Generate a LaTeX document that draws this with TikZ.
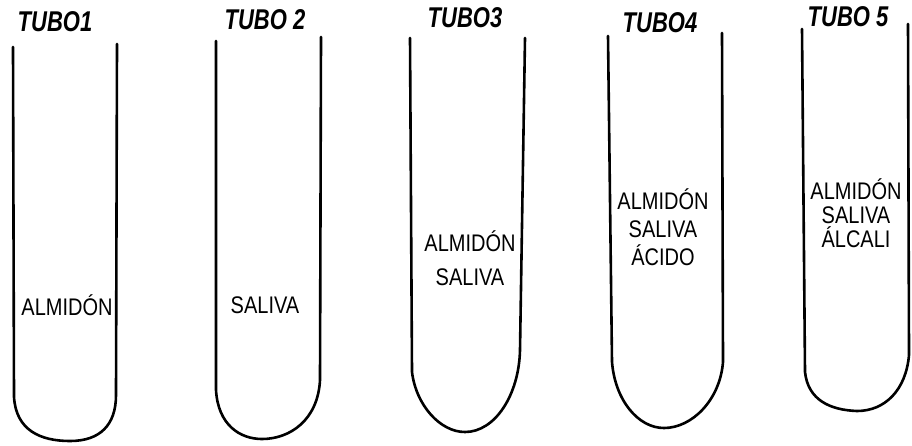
\documentclass[tikz,border=0pt]{standalone}
\usepackage{fontspec}
\setmainfont{Liberation Sans}
\begin{document}
\begin{tikzpicture}[x=1pt,y=-1pt,
  tube/.style={line width=2.6pt, line cap=round, line join=round},
  title/.style={font=\fontsize{22}{24}\selectfont\bfseries\itshape, inner sep=0pt, yscale=1.3, transform shape},
  lab/.style={inner sep=0pt, align=center, yscale=1.2, transform shape}]
\useasboundingbox (0,0) rectangle (912,445);
% tubes
\draw[tube] (13,47) -- (14,397) .. controls (16,430) and (40,441) .. (70,441) .. controls (100,441) and (116,425) .. (116,395) -- (117,44);
\draw[tube] (216,41) -- (216,390) .. controls (218,425) and (240,439) .. (262,439) .. controls (290,439) and (318,420) .. (320,380) -- (321,37);
\draw[tube] (410,38) -- (412,372) .. controls (416,405) and (440,432) .. (465,432) .. controls (495,432) and (519,395) .. (520,350) -- (525,38);
\draw[tube] (608,36) -- (612,362) .. controls (615,400) and (638,428) .. (664,428) .. controls (692,428) and (720,400) .. (723,362) -- (722,33);
\draw[tube] (802,29) -- (805,372) .. controls (808,400) and (830,410) .. (857,411) .. controls (885,411) and (906,390) .. (909,355) -- (908,24);
% titles
\node[title] (t1) at (55,22) {TUBO1};
\node[title] (t2) at (265,20) {TUBO 2};
\node[title] (t3) at (465,18) {TUBO3};
\node[title] (t4) at (660,23) {TUBO4};
\node[title] (t5) at (848,17) {TUBO 5};
% contents
\node[lab, font=\fontsize{20}{28}\selectfont] (c1) at (67,305) {ALMIDÓN};
\node[lab, font=\fontsize{20}{28}\selectfont] (c2) at (265,305) {SALIVA};
\node[lab, font=\fontsize{20}{28}\selectfont] (c3) at (470,258) {ALMIDÓN\\SALIVA};
\node[lab, font=\fontsize{20}{23.5}\selectfont] (c4) at (663,227) {ALMIDÓN\\SALIVA\\ÁCIDO};
\node[lab, font=\fontsize{20}{20}\selectfont] (c5) at (856,213) {ALMIDÓN\\SALIVA\\ÁLCALI};
\end{tikzpicture}
\end{document}
